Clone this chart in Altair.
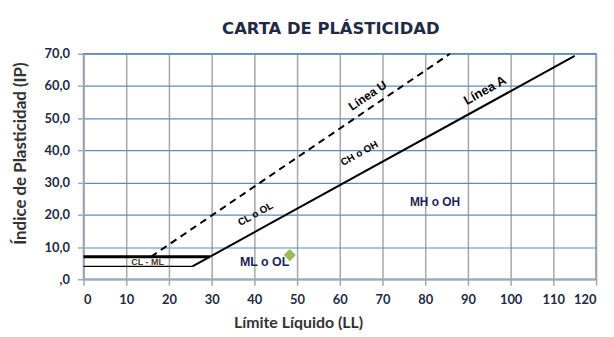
import altair as alt
import pandas as pd

# Data
line_a_ll = [25.5, 115.0]
line_a_ip = [4.0, 69.35]
line_u_ll = [15.8, 85.8]
line_u_ip = [7.0, 70.0]
h7_ll = [0.0, 29.6]
h7_ip = [7.0, 7.0]
h4_ll = [0.0, 25.5]
h4_ip = [4.0, 4.0]
sample_ll = [48.3]
sample_ip = [7.5]

x_ticks = list(range(0, 121, 10))
y_ticks = list(range(0, 71, 10))

xs = alt.Scale(domain=[0, 120], nice=False)
ys = alt.Scale(domain=[0, 70], nice=False)

def df(ll, ip):
    return pd.DataFrame({"LL": ll, "IP": ip})

base_x = alt.X("LL:Q", scale=xs,
               axis=alt.Axis(values=x_ticks, title="Límite Líquido (LL)", format="d",
                             grid=True, gridColor="#A6A6A6", gridWidth=1.5,
                             domainColor="#A6A6A6", domainWidth=1.5,
                             tickColor="#A6A6A6", tickSize=6, tickWidth=1.5,
                             labelFont="Lato", labelFontWeight="bold", labelFontSize=13,
                             labelColor="#1F2A44", labelPadding=8, labelOverlap=False,
                             titleFont="Lato", titleFontWeight="bold", titleFontSize=16,
                             titleColor="#333333", titlePadding=9, titleX=216))
base_y = alt.Y("IP:Q", scale=ys,
               axis=alt.Axis(values=y_ticks, title="Índice de Plasticidad (IP)",
                             labelExpr="datum.value == 0 ? ',0' : replace(format(datum.value, '.1f'), '.', ',')",
                             grid=True, gridColor="#5B8BC9", gridWidth=1.2,
                             domainColor="#A6A6A6", domainWidth=1.5,
                             tickColor="#A6A6A6", tickSize=6, tickWidth=1.5,
                             labelFont="Lato", labelFontWeight="bold", labelFontSize=13,
                             labelColor="#1F2A44", labelPadding=8, labelOverlap=False,
                             titleFont="Lato", titleFontWeight="bold", titleFontSize=17,
                             titleColor="#333333", titleX=-54, titleY=100))

h4_layer = alt.Chart(df(h4_ll, h4_ip)).mark_line(color="black", strokeWidth=1.5).encode(
    x=base_x, y=base_y)
h7_layer = alt.Chart(df(h7_ll, h7_ip)).mark_line(color="black", strokeWidth=3).encode(
    x=base_x, y=base_y)
a_layer = alt.Chart(df(line_a_ll, line_a_ip)).mark_line(color="black", strokeWidth=2).encode(
    x=base_x, y=base_y)
u_layer = alt.Chart(df(line_u_ll, line_u_ip)).mark_line(color="black", strokeWidth=2,
                                                        strokeDash=[7, 5]).encode(
    x=base_x, y=base_y)
pt_layer = alt.Chart(df(sample_ll, sample_ip)).mark_point(shape="diamond", filled=True,
                                                          color="#9BBB59", size=150, opacity=1).encode(
    x=base_x, y=base_y)

def label(text, ll, ip, angle=0, size=10, weight="normal", color="black", font="Liberation Sans"):
    d = pd.DataFrame({"LL": [ll], "IP": [ip], "t": [text]})
    kw = dict(fontSize=size, fontWeight=weight, color=color, font=font,
              align="center", baseline="middle")
    if angle:
        kw["angle"] = angle
    return alt.Chart(d).mark_text(**kw).encode(x=base_x, y=base_y, text="t:N")

labels = [
    label("Línea U", 66.5, 57.0, angle=326, size=12, weight="bold"),
    label("Línea A", 94.0, 58.6, angle=331, size=13, weight="bold"),
    label("CH o OH", 64.6, 39.0, angle=331, size=10, weight="bold"),
    label("CL o OL", 40.3, 20.2, angle=331, size=10, weight="bold"),
    label("MH o OH", 82.3, 24.0, size=12, weight="bold", color="#1F1F5A"),
    label("ML o OL", 42.4, 5.2, size=12.5, weight="bold", color="#1F1F5A"),
    label("CL - ML", 15.0, 5.4, size=9, weight="bold", color="#4A3A2A"),
]

chart = alt.layer(h4_layer, h7_layer, a_layer, u_layer, pt_layer, *labels).properties(
    width=516, height=227,
    title=alt.TitleParams("CARTA DE PLÁSTICIDAD", font="DejaVu Sans", fontSize=16.5,
                          fontWeight="bold", color="#1F2A44", anchor="middle", dx=-9, offset=10),
    autosize=alt.AutoSizeParams(type="none"),
    padding={"left": 76, "top": 45, "right": 10, "bottom": 50},
).configure_view(stroke="#5B8BC9", strokeWidth=1.5)

chart.save("out.html", embed_options={"renderer": "svg", "actions": False})
